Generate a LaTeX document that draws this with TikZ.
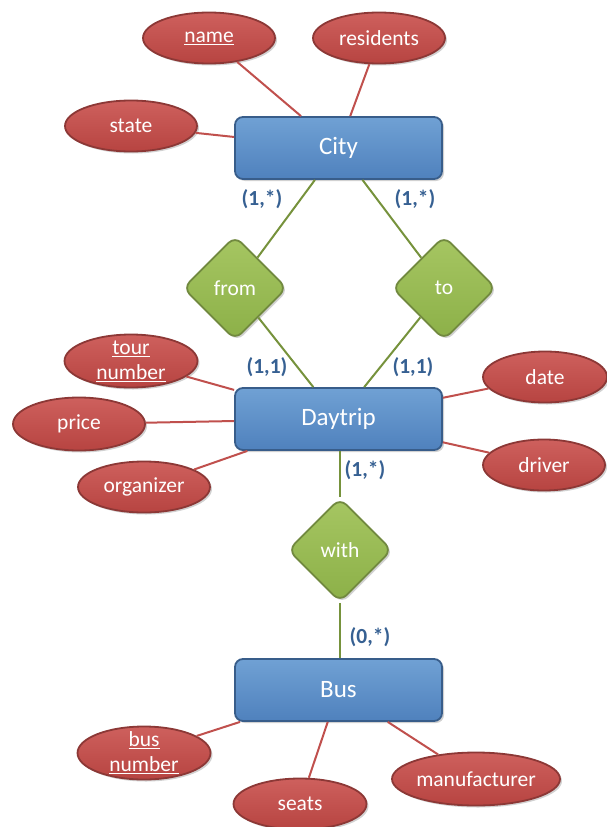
\documentclass[tikz,border=0pt]{standalone}
\usepackage{fontspec}
\setmainfont{Carlito}
\usetikzlibrary{shapes.geometric,shadows}
\definecolor{entTop}{RGB}{112,161,212}
\definecolor{entBot}{RGB}{79,129,189}
\definecolor{entLine}{RGB}{56,93,138}
\definecolor{attTop}{RGB}{206,96,93}
\definecolor{attBot}{RGB}{183,68,65}
\definecolor{attLine}{RGB}{140,56,54}
\definecolor{relTop}{RGB}{166,198,98}
\definecolor{relBot}{RGB}{140,176,72}
\definecolor{relLine}{RGB}{113,137,63}
\definecolor{attEdge}{RGB}{192,80,77}
\definecolor{relEdge}{RGB}{118,146,60}
\definecolor{cardCol}{RGB}{54,96,146}
\begin{document}
\begin{tikzpicture}[x=1pt,y=-1pt,
  softshadow/.style={drop shadow={shadow xshift=2pt,shadow yshift=-2pt,opacity=0.18,fill=black}},
  entity/.style={rectangle,rounded corners=8pt,minimum width=207pt,minimum height=62pt,
    top color=entTop,bottom color=entBot,draw=entLine,line width=1.8pt,text=white,
    font=\fontsize{25}{30}\selectfont,softshadow},
  attr/.style={ellipse,inner sep=0pt,minimum width=132pt,minimum height=51pt,
    top color=attTop,bottom color=attBot,draw=attLine,line width=1.8pt,softshadow},
  attrtext/.style={text=white,align=center,font=\fontsize{21.5}{25}\selectfont},
  rel/.style={diamond,aspect=1,inner sep=0pt,minimum width=104pt,minimum height=104pt,
    rounded corners=9pt,top color=relTop,bottom color=relBot,draw=relLine,line width=1.8pt,
    text=white,font=\fontsize{21.5}{25}\selectfont,softshadow},
  attedge/.style={draw=attEdge,line width=2pt},
  reledge/.style={draw=relEdge,line width=2pt},
  card/.style={text=cardCol,font=\bfseries\fontsize{21.5}{25}\selectfont}
]
\useasboundingbox (0,0) rectangle (607,827);

% entities
\node[entity] (city) at (338.5,148) {City};
\node[entity] (trip) at (338.5,419) {Daytrip};
\node[entity] (bus) at (338.5,690) {Bus};

% relationships
\node[rel] (from) at (235,288) {from};
\node[rel] (to) at (444,288) {to};
\node[rel] (with) at (340,550) {with};

% attributes
\node[attr,label={[attrtext]center:\underline{name}}] (name) at (209,38) {};
\node[attr,label={[attrtext]center:residents}] (res) at (379,38) {};
\node[attr,label={[attrtext]center:state}] (state) at (131,126) {};
\node[attr,minimum height=53pt,minimum width=133pt,label={[attrtext]center:{\underline{tour}\\\underline{number}}}] (tour) at (131,361) {};
\node[attr,minimum height=53pt,label={[attrtext]center:price}] (price) at (79,424) {};
\node[attr,label={[attrtext]center:organizer}] (org) at (144,487) {};
\node[attr,minimum width=124pt,label={[attrtext]center:date}] (date) at (545,377) {};
\node[attr,minimum width=122pt,label={[attrtext]center:driver}] (driver) at (544,465) {};
\node[attr,minimum height=53pt,minimum width=133pt,label={[attrtext]center:{\underline{bus}\\\underline{number}}}] (busno) at (144,753) {};
\node[attr,minimum width=133pt,label={[attrtext]center:seats}] (seats) at (300,804) {};
\node[attr,minimum width=168pt,minimum height=53pt,label={[attrtext]center:manufacturer}] (manu) at (476,779) {};

% attribute edges
\path[attedge] (name) -- (city);
\path[attedge] (res) -- (city);
\path[attedge] (state) -- (city);
\path[attedge] (tour) -- (trip);
\path[attedge] (price) -- (trip);
\path[attedge] (org) -- (trip);
\path[attedge] (date) -- (trip);
\path[attedge] (driver) -- (trip);
\path[attedge] (busno) -- (bus);
\path[attedge] (seats) -- (bus);
\path[attedge] (manu) -- (bus);

% relationship edges
\path[reledge] (city) -- (from);
\path[reledge] (city) -- (to);
\path[reledge] (from) -- (trip);
\path[reledge] (to) -- (trip);
\path[reledge] (trip.south -| with) -- (with);
\path[reledge] (with) -- (bus.north -| with);

% cardinalities
\node[card] (c1) at (262,199) {(1,*)};
\node[card] (c2) at (415,199) {(1,*)};
\node[card] (c3) at (267,367) {(1,1)};
\node[card] (c4) at (413,367) {(1,1)};
\node[card] (c5) at (365,470) {(1,*)};
\node[card] (c6) at (370,637) {(0,*)};
\end{tikzpicture}
\end{document}
